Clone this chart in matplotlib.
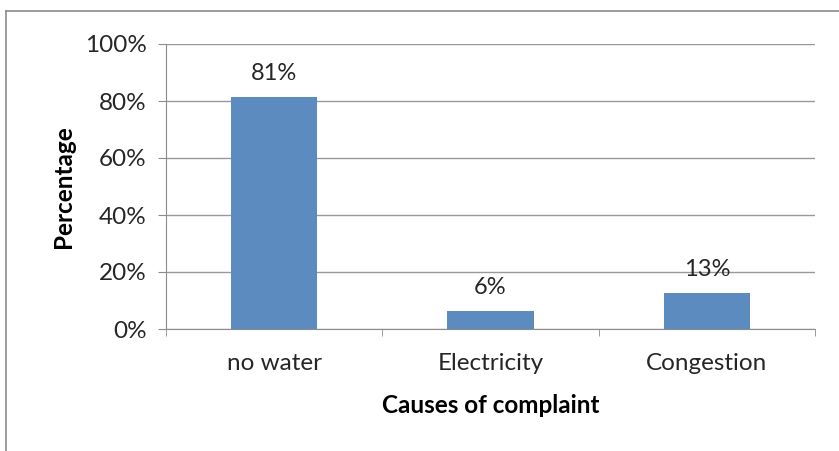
import matplotlib.pyplot as plt
from matplotlib.lines import Line2D

plt.rcParams['font.family'] = ['Lato', 'DejaVu Sans']

causes = ["no water", "Electricity", "Congestion"]
shares = [81.25, 6.25, 12.5]
y_ticks = [0, 20, 40, 60, 80, 100]

grey = "#8c8c8c"
blue = "#5b8bbf"
txt = "#262626"
fs = 17.5

fig = plt.figure(figsize=(8.39, 4.51), dpi=100)
ax = fig.add_axes([166 / 839, 1 - 329 / 451, (815 - 166) / 839, (329 - 44) / 451])

x = range(len(causes))
ax.bar(x, shares, width=0.4, color=blue, zorder=3)

# excel style rounding for the labels (12.5 -> 13)
for i, v in zip(x, shares):
    ax.text(i, v + 4.8, "%d%%" % int(v + 0.5), ha="center", va="bottom",
            fontsize=fs - 0.5, color=txt)

ax.set_xlim(-0.5, len(causes) - 0.5)
ax.set_ylim(0, 100)
ax.set_yticks(y_ticks)
ax.set_yticklabels(["%d%%" % t for t in y_ticks], fontsize=fs, color=txt)
ax.set_xticks(list(x))
ax.set_xticklabels(causes, fontsize=fs, color=txt)
ax.set_xticks([i - 0.5 for i in range(len(causes) + 1)], minor=True)
ax.tick_params(axis="x", which="major", length=0, pad=17)
ax.tick_params(axis="x", which="minor", length=5, color=grey, direction="out")
ax.tick_params(axis="y", length=6, color=grey, pad=8)

ax.yaxis.grid(True, color="#999999", linewidth=1)
ax.set_axisbelow(True)
for s in ["top", "right"]:
    ax.spines[s].set_visible(False)
for s in ["left", "bottom"]:
    ax.spines[s].set_color(grey)

ax.set_ylabel("Percentage", fontsize=fs, fontweight="bold", labelpad=7)
ax.set_xlabel("Causes of complaint", fontsize=fs, fontweight="bold", labelpad=15)

# outer chart frame (left and top edges only visible)
fig.add_artist(Line2D([6 / 839, 6 / 839], [0, 1 - 11 / 451], transform=fig.transFigure,
                      color=grey, linewidth=1.2))
fig.add_artist(Line2D([6 / 839, 1], [1 - 11 / 451, 1 - 11 / 451], transform=fig.transFigure,
                      color=grey, linewidth=1.2))

fig.savefig("out.png", dpi=100)
